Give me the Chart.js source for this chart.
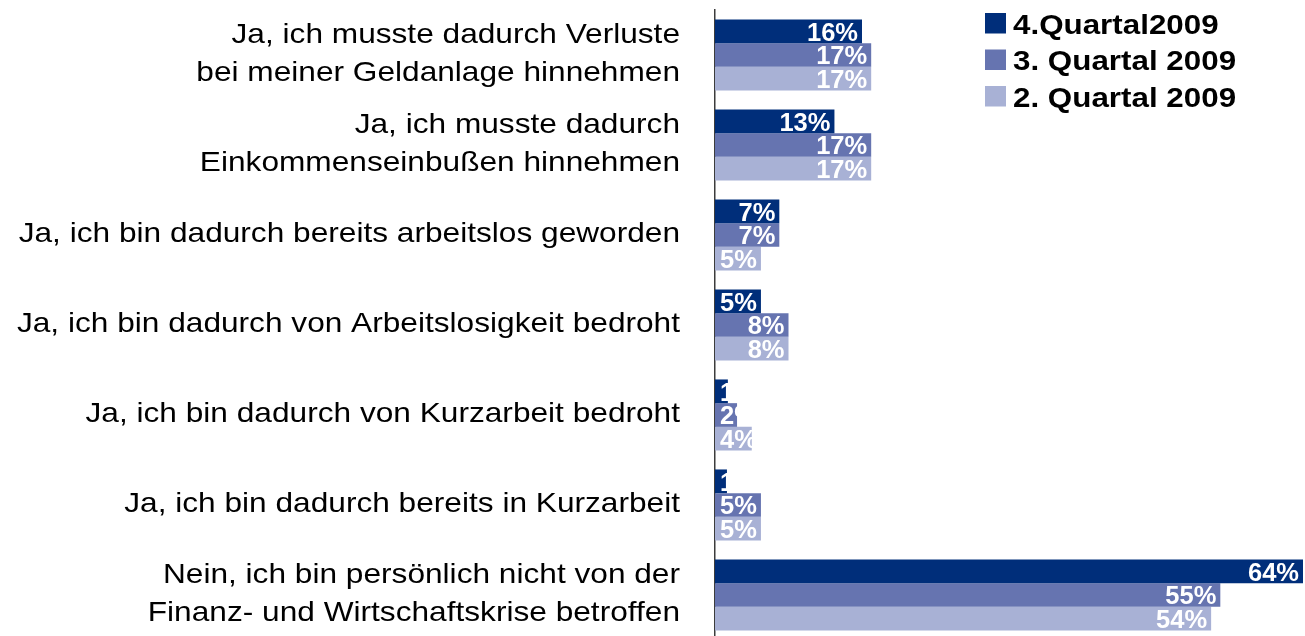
<!DOCTYPE html>
<html lang="de">
<head>
<meta charset="UTF-8">
<title>Betroffenheit von der Finanz- und Wirtschaftskrise</title>
<script src="https://cdn.jsdelivr.net/npm/chart.js@4.4.1/dist/chart.umd.min.js"></script>
<style>
    html, body { margin: 0; padding: 0; background: #ffffff; overflow: hidden; }
    #wrap { position: relative; width: 1305px; height: 640px; }
</style>
</head>
<body>
<div id="wrap"><canvas id="chart_canvas" width="1305" height="640"></canvas></div>

<script>
// categories (top to bottom)
var categories = [
    ["Ja, ich musste dadurch Verluste", "bei meiner Geldanlage hinnehmen"],
    ["Ja, ich musste dadurch", "Einkommenseinbußen hinnehmen"],
    "Ja, ich bin dadurch bereits arbeitslos geworden",
    "Ja, ich bin dadurch von Arbeitslosigkeit bedroht",
    "Ja, ich bin dadurch von Kurzarbeit bedroht",
    "Ja, ich bin dadurch bereits in Kurzarbeit",
    ["Nein, ich bin persönlich nicht von der", "Finanz- und Wirtschaftskrise betroffen"]
];

// series values in percent (labels show them rounded)
var q4_2009 = [16, 13, 7, 5, 1.4, 1.3, 64];
var q3_2009 = [17, 17, 7, 8, 2.4, 5, 55];
var q2_2009 = [17, 17, 5, 8, 4, 5, 54];

var series_names = ["4.Quartal2009", "3. Quartal 2009", "2. Quartal 2009"];
var series_colors = ["#002e7a", "#6674b0", "#a8b1d5"];

var x_max = 64;

// category labels and legend, drawn a bit wider than the plain font
var text_plugin = {
    id: 'text_plugin',
    afterDraw: function(chart) {
        var ctx = chart.ctx;
        var y_scale = chart.scales.y;
        var area = chart.chartArea;

        ctx.save();
        ctx.fillStyle = '#000000';
        ctx.textAlign = 'right';
        ctx.textBaseline = 'alphabetic';
        ctx.font = '28px "Liberation Sans", Arial, sans-serif';

        var right = area.left - 35;
        var line_height = 38;

        chart.data.labels.forEach(function(label, i) {
            var lines = Array.isArray(label) ? label : [label];
            var center = y_scale.getPixelForValue(i) - 3;
            var first = center - (lines.length - 1) * line_height / 2;

            lines.forEach(function(line, j) {
                ctx.save();
                ctx.translate(right, first + j * line_height + 10);
                ctx.scale(1.13, 1);
                ctx.fillText(line, 0, 0);
                ctx.restore();
            });
        });

        // legend
        ctx.textAlign = 'left';
        ctx.font = 'bold 27.5px "Liberation Sans", Arial, sans-serif';

        var lx = area.right - 318;
        chart.data.datasets.forEach(function(ds, i) {
            var top = area.top + 3 + i * 36.5;
            ctx.fillStyle = ds.backgroundColor;
            ctx.fillRect(lx, top, 21, 20.5);

            ctx.save();
            ctx.fillStyle = '#000000';
            ctx.translate(lx + 28, top + 20.5);
            ctx.scale(1.14, 1);
            ctx.fillText(ds.label, 0, 0);
            ctx.restore();
        });

        ctx.restore();
    }
};

// white value labels at the end of each bar
var value_plugin = {
    id: 'value_plugin',
    afterDatasetsDraw: function(chart) {
        var ctx = chart.ctx;

        ctx.save();
        ctx.fillStyle = '#ffffff';
        ctx.textAlign = 'left';
        ctx.textBaseline = 'alphabetic';
        ctx.font = 'bold 25.5px "Liberation Sans", Arial, sans-serif';

        chart.data.datasets.forEach(function(ds, i) {
            var meta = chart.getDatasetMeta(i);
            meta.data.forEach(function(bar, j) {
                var text = Math.round(ds.data[j]) + '%';
                var w = ctx.measureText(text).width;
                var x = Math.max(bar.base + 5, bar.x - 4 - w);
                ctx.fillText(text, x, bar.y + 9.3);
            });
        });

        ctx.restore();
    }
};

window._chart = new Chart(
    document.getElementById('chart_canvas'), {
        type: 'bar',

        data: {
            labels: categories,

            datasets: [
                {
                    label: series_names[0],
                    backgroundColor: series_colors[0],
                    data: q4_2009
                },
                {
                    label: series_names[1],
                    backgroundColor: series_colors[1],
                    data: q3_2009
                },
                {
                    label: series_names[2],
                    backgroundColor: series_colors[2],
                    data: q2_2009
                }
            ]
        },

        options: {
            indexAxis: 'y',
            responsive: false,
            animation: false,
            categoryPercentage: 0.79,
            barPercentage: 1.0,
            borderWidth: 0,
            layout: {
                padding: { top: 10, right: 2, bottom: 0, left: 0 }
            },
            plugins: {
                legend: { display: false },
                tooltip: { enabled: false }
            },
            scales: {
                x: {
                    display: false,
                    min: 0,
                    max: x_max
                },
                y: {
                    grid: { display: false, drawTicks: false },
                    border: { display: true, color: '#3c3c3c', width: 1.5 },
                    ticks: { display: false },
                    afterFit: function(scale) {
                        scale.width = 715;
                    }
                }
            }
        },

        plugins: [value_plugin, text_plugin]
    }
);
</script>
</body>
</html>
